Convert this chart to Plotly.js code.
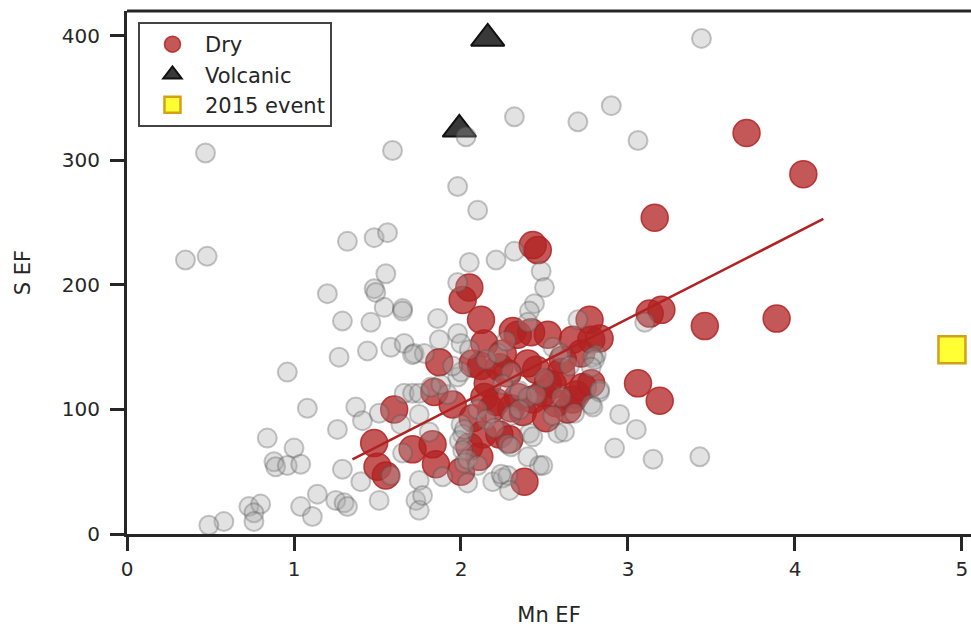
<!DOCTYPE html>
<html>
<head>
<meta charset="utf-8">
<script src="https://cdn.plot.ly/plotly-3.0.1.min.js"></script>
<style>html,body{margin:0;padding:0;background:#fff;overflow:hidden}#chart{width:971px;height:627px}</style>
</head>
<body>
<div id="chart"></div>
<script>
// Background (all samples) - Mn EF vs S EF
const grayX = [0.35,0.48,0.47,1.59,1.32,1.48,1.56,1.55,1.20,1.48,1.49,1.54,1.65,1.65,1.29,1.46,
  0.96,1.27,1.44,1.58,1.66,1.72,1.78,1.08,1.37,1.26,1.41,1.51,1.64,1.66,1.71,1.75,
  0.84,1.00,0.88,0.89,0.96,1.04,1.29,1.40,1.51,1.14,1.04,1.11,1.25,1.30,1.32,0.73,0.80,0.76,0.76,0.58,0.49,1.73,1.75,1.65,1.58,
  1.98,2.10,2.05,2.21,2.32,2.48,2.50,1.98,2.44,2.41,1.86,1.98,1.87,2.70,2.00,
  2.03,2.32,2.70,2.90,3.06,3.44,
  1.71,1.98,2.00,1.75,1.81,2.00,2.01,1.99,2.02,2.01,2.02,2.04,2.19,2.25,2.28,2.29,2.40,2.47,2.49,2.41,2.43,2.58,2.62,
  1.75,1.77,1.89,2.04,2.78,2.83,2.92,2.95,2.81,2.68,
  3.10,2.79,2.80,2.78,2.83,2.79,3.05,3.15,3.43,
  2.15,2.22,2.30,2.25,2.35,2.40,2.45,2.55,2.60,2.65,2.50,2.10,2.15,2.20,2.30,2.35,2.55,2.60,1.92,1.82,1.88,1.95,2.05,2.27,2.40,2.28,2.30,2.10,2.24];
const grayY = [220,223,306,308,235,238,242,209,193,197,194,182,181,179,171,170,
  130,142,147,150,153,145,145,101,102,84,91,97,88,113,113,113,
  77,69,58,54,55,56,52,42,27,32,22,14,27,25,22,22,24,17,10,10,7,27,19,65,47,
  279,260,218,220,227,211,198,202,185,179,173,161,156,172,153,
  319,335,331,344,316,398,
  144,126,130,96,82,88,80,75,84,67,57,60,42,45,47,35,62,55,55,81,78,81,82,
  43,31,46,41,104,114,69,96,144,97,
  170,142,140,134,116,102,84,60,62,
  140,145,130,120,115,110,112,150,145,135,125,100,92,85,95,100,95,110,112,118,120,135,148,155,170,72,70,55,48];

// Dry season samples
const dryX = [1.48,1.50,1.55,1.60,1.71,1.83,1.85,1.84,1.87,1.95,
  2.00,2.05,2.07,2.11,2.13,2.23,2.29,2.38,
  2.01,2.05,2.12,2.14,2.07,2.12,
  2.16,2.14,2.21,2.28,2.23,2.31,2.34,2.40,2.34,2.37,2.30,2.43,2.49,2.55,2.52,2.51,2.57,2.64,2.67,2.69,2.73,2.78,2.42,2.52,2.61,2.72,2.67,2.77,2.78,2.83,
  2.43,2.46,
  3.13,3.20,3.16,3.71,4.05,3.46,3.89,3.06,3.19,
  2.45,2.25,2.18,2.60];
const dryY = [73,54,47,100,68,72,56,114,138,104,
  50,70,93,62,80,80,76,42,
  188,198,172,153,137,135,
  121,110,106,129,134,163,160,137,110,98,101,108,113,120,121,93,105,100,108,112,118,121,162,160,140,145,156,172,156,157,
  232,228,
  177,180,254,322,289,167,173,121,107,
  132,145,100,130];

// Volcanic samples
const volcX = [2.16,1.99];
const volcY = [398,325];

// 2015 event
const eventX = [4.94];
const eventY = [148];

// Fitted line (dry samples), endpoints
const fitX = [1.35,4.17];
const fitY = [60,253];

const xTicks = [0,1,2,3,4,5];
const yTicks = [0,100,200,300,400];

const FONT = 'DejaVu Sans, Verdana, sans-serif';
const INK = '#262626';

const traces = [
  {x: dryX, y: dryY, type:'scatter', mode:'markers', name:'Dry',
   marker:{symbol:'circle', size:27, color:'rgba(178,34,34,0.76)', line:{color:'rgba(178,34,34,0.85)', width:1.5}}},
  {x: volcX, y: volcY, type:'scatter', mode:'markers', name:'Volcanic',
   marker:{symbol:'triangle-up', size:29, color:'rgba(40,40,40,0.92)', line:{color:'#111', width:2}}},
  {x: eventX, y: eventY, type:'scatter', mode:'markers', name:'2015 event',
   marker:{symbol:'square', size:27, color:'#ffff33', line:{color:'#d4a017', width:2.5}}},
  {x: grayX, y: grayY, type:'scatter', mode:'markers', name:'all', showlegend:false,
   marker:{symbol:'circle', size:19, color:'rgba(165,165,165,0.32)', line:{color:'rgba(80,80,80,0.32)', width:2}}},
  {x: fitX, y: fitY, type:'scatter', mode:'lines', showlegend:false,
   line:{color:'#b22222', width:2.5}}
];

const layout = {
  width: 971, height: 627,
  margin: {l:127, r:0, t:11, b:93},
  paper_bgcolor:'#fff', plot_bgcolor:'#fff',
  font: {family: FONT, color: INK, size: 20},
  showlegend: true,
  legend: {x:0.013, y:0.979, xanchor:'left', yanchor:'top',
    bordercolor:'#444', borderwidth:2, bgcolor:'rgba(255,255,255,0.85)',
    font:{family:FONT, size:21, color:INK}, itemsizing:'trace', itemwidth:55, tracegroupgap:0},
  xaxis: {range:[0,5.054], tickvals:xTicks, ticktext:xTicks.map(String),
    showgrid:false, zeroline:false, showline:true, linewidth:3, linecolor:INK,
    ticks:'outside', ticklen:14, tickwidth:3, tickcolor:INK, ticklabelstandoff:1,
    tickfont:{family:FONT, size:20, color:INK},
    title:{text:'Mn EF', font:{family:FONT, size:21, color:INK}, standoff:34}},
  yaxis: {range:[0,420], tickvals:yTicks, ticktext:yTicks.map(String),
    showgrid:false, zeroline:false, showline:true, linewidth:3, linecolor:INK,
    ticks:'outside', ticklen:14, tickwidth:3, tickcolor:INK, ticklabelstandoff:6,
    tickfont:{family:FONT, size:20, color:INK},
    title:{text:'S EF', font:{family:FONT, size:21, color:INK}, standoff:26}},
  shapes: [{type:'line', xref:'paper', yref:'paper', x0:0, x1:1, y0:1, y1:1,
    line:{color:INK, width:3}}]
};

Plotly.newPlot('chart', traces, layout, {displayModeBar:false, staticPlot:true});
</script>
</body>
</html>
